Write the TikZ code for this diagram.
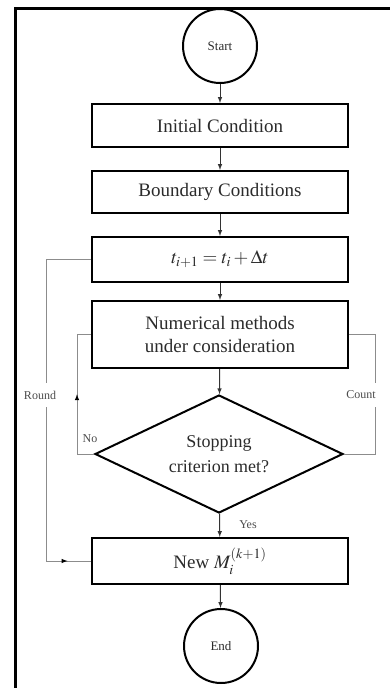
\documentclass[tikz,border=0pt]{standalone}
\usepackage{mathptmx}
\usepackage[no-math]{fontspec}
\setmainfont{Liberation Serif}
\usepackage{tikz}
\usetikzlibrary{arrows}
\usetikzlibrary{shapes.geometric}
\usetikzlibrary{decorations.markings}
\tikzset{>=latex}
\usepackage{xcolor}
\definecolor{ln}{HTML}{8C8C8C}
\definecolor{tx}{HTML}{2B2B2B}
\tikzstyle{box}=[draw,line width=2pt,minimum width=256pt,text=tx,
                 font=\fontsize{19}{23}\selectfont,align=center]
\tikzstyle{term}=[draw,circle,line width=2pt,minimum size=74pt,inner sep=0pt,
                  text=tx,font=\fontsize{13}{15}\selectfont]
\tikzstyle{dec}=[draw,diamond,aspect=2.1,line width=2pt,minimum width=248pt,
                 minimum height=118pt,inner sep=0pt,text=tx,
                 font=\fontsize{18}{25}\selectfont,align=center]
\tikzstyle{flow}=[->,line width=1pt,color=black!80]
\tikzstyle{loop line}=[line width=1pt,color=ln]
\tikzstyle{lbl}=[text=black!70,font=\fontsize{12}{14}\selectfont]
\tikzset{mid arrow/.style={postaction={decorate,decoration={markings,
  mark=at position #1 with {\arrow[black,line width=1pt]{latex}}}}}}

\begin{document}
\begin{tikzpicture}[x=1pt,y=-1pt]
  \useasboundingbox (0,0) rectangle (390,688);
  % frame
  \draw[line width=3pt] (390,8) -- (15,8) -- (15,688);
  % main column
  \node[term] (start) at (220,46) {Start};
  \node[box,minimum height=43pt] (init) at (220,125.5) {Initial Condition};
  \node[box,minimum height=42pt] (bound) at (220,192) {Boundary Conditions};
  \node[box,minimum height=45pt] (tstep) at (220,259.5) {$t_{i+1} = t_i + \Delta t$};
  \node[box,minimum height=67pt] (numer) at (220,334.5)
        {Numerical methods\\under consideration};
  \node[dec] (stop) at (219,454) {Stopping\\criterion met?};
  \node[box,minimum height=46pt] (newm) at (220,561) {New $M_i^{(k+1)}$};
  \node[term] (end) at (221,646) {End};
  \draw[flow] (start) -- (init);
  \draw[flow] (init) -- (bound);
  \draw[flow] (bound) -- (tstep);
  \draw[flow] (tstep) -- (numer);
  \draw[flow] (numer) -- (stop);
  \draw[flow] (stop) -- (newm);
  \draw[flow] (newm) -- (end);
  % loops
  \coordinate (rtop) at (46,259.5);
  \coordinate (rbot) at (46,561);
  \coordinate (nobot) at (77,454);
  \coordinate (notop) at (77,334.5);
  \coordinate (cbot) at (375,454);
  \coordinate (ctop) at (375,334.5);
  \draw[loop line,mid arrow=0.94] (tstep.west) -- (rtop) -- (rbot) -- (newm.west);
  \draw[loop line,mid arrow=0.51] (stop.west) -- (nobot) -- (notop) -- (numer.west);
  \draw[loop line] (stop.east) -- (cbot) -- (ctop) -- (numer.east);
  \node[lbl,fill=white,inner ysep=8pt] (round) at (40,395) {Round};
  \node[lbl,fill=white,inner ysep=8pt] (count) at (361,395) {Count};
  \node[lbl] (no) at (90,439) {No};
  \node[lbl] (yes) at (248,525) {Yes};
\end{tikzpicture}
\end{document}
